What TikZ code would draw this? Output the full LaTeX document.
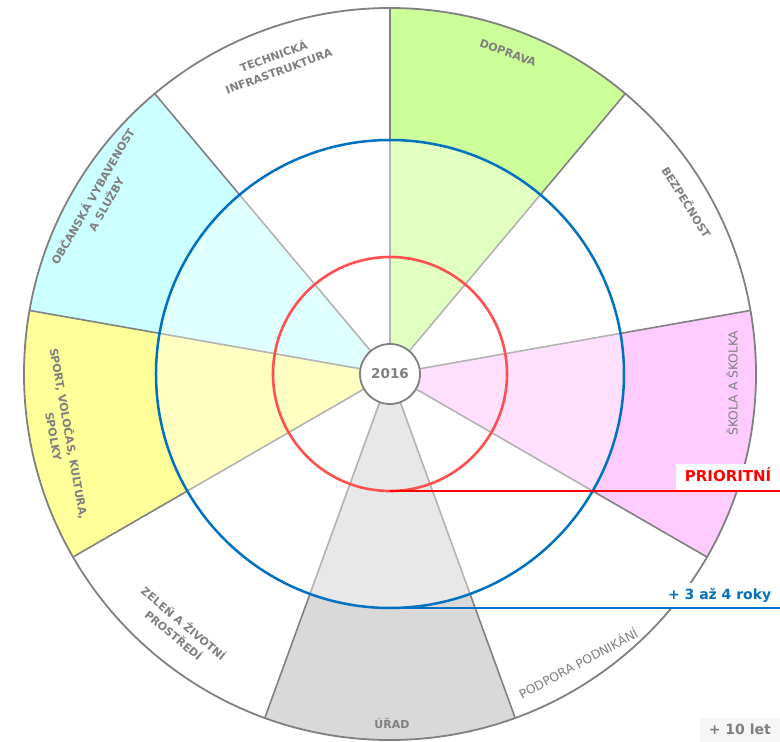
\documentclass[tikz,border=0pt]{standalone}
\usepackage{fontspec}
\setmainfont{DejaVu Sans}
\definecolor{gline}{HTML}{808080}
\definecolor{gtext}{HTML}{7F7F7F}
\definecolor{cgreen}{HTML}{CCFF99}
\definecolor{cpink}{HTML}{FFCCFF}
\definecolor{cgray}{HTML}{D9D9D9}
\definecolor{cyellow}{HTML}{FFFF99}
\definecolor{ccyan}{HTML}{CCFFFF}
\definecolor{cblue}{HTML}{0070C0}
\definecolor{cred}{HTML}{FF0000}
\definecolor{credc}{HTML}{FF4F4F}
\definecolor{tagbg}{HTML}{F6F6F6}
\tikzset{
  sectorlabel/.style={text=gtext, font=\fontsize{11}{15.5}\selectfont\bfseries, align=center, inner sep=0pt},
  sectorlabelreg/.style={text=gtext, font=\fontsize{12.3}{15.5}\selectfont, align=center, inner sep=0pt},
  radial/.style={draw=gline, line width=1.6pt},
  outerring/.style={draw=gline, line width=1.8pt},
  bluering/.style={draw=cblue, line width=2.5pt},
  redring/.style={draw=credc, line width=2.6pt},
  blueline/.style={draw=cblue, line width=2.5pt},
  redline/.style={draw=cred, line width=2.5pt},
  centerbox/.style={circle, fill=white, draw=gline, line width=1.8pt, minimum size=60pt, inner sep=0pt, text=gtext, font=\fontsize{13.5}{15}\selectfont\bfseries},
  tagbox/.style={fill=white, font=\fontsize{14}{16}\selectfont\bfseries, text height=10pt, text depth=0pt, inner xsep=8.5pt, inner ysep=0pt, anchor=south east}
}
\newcommand\sectorfill[3]{\fill[#3] (O) -- (#1:366pt) arc[start angle=#1, end angle=#2, radius=366pt] -- cycle;}
\begin{document}
\begin{tikzpicture}[x=1pt,y=1pt]
\useasboundingbox (-390,-368) rectangle (390,374);
\coordinate (O) at (0,0);
% sector fills
\sectorfill{50}{90}{cgreen}
\sectorfill{-30}{10}{cpink}
\sectorfill{-110}{-70}{cgray}
\sectorfill{170}{210}{cyellow}
\sectorfill{130}{170}{ccyan}
% radial lines
\foreach \a [count=\i] in {90,50,10,-30,-70,-110,-150,170,130}{
  \coordinate (p\i) at (\a:366pt);
  \draw[radial] (O) -- (p\i);
}
\draw[outerring] (O) circle[radius=366pt];
% lighten the inner disc
\fill[white, fill opacity=0.4] (O) circle[radius=235pt];
% rings
\draw[bluering] (O) circle[radius=234pt];
\draw[redring] (O) circle[radius=117pt];
% level lines
\coordinate (rb) at (0,-117);
\coordinate (re) at (390,-117);
\draw[redline] (rb) -- (re);
\coordinate (bb) at (0,-234);
\coordinate (be) at (390,-234);
\draw[blueline] (bb) -- (be);
% centre
\node[centerbox] (c) at (O) {2016};
% sector labels
\node[sectorlabel, rotate=20] (tech) at (-114,311) {TECHNICKÁ\\INFRASTRUKTURA};
\node[sectorlabel, rotate=-20] (dopr) at (118,321) {DOPRAVA};
\node[sectorlabel, rotate=-58] (bezp) at (297,172) {BEZPEČNOST};
\node[sectorlabelreg, rotate=90] (skol) at (342,-9) {ŠKOLA A ŠKOLKA};
\node[sectorlabelreg, rotate=28] (podp) at (188,-289) {PODPORA PODNIKÁNÍ};
\node[sectorlabel] (urad) at (2,-349) {ÚŘAD};
\node[sectorlabel, rotate=-40] (zel) at (-211,-255) {ZELEŇ A ŽIVOTNÍ\\PROSTŘEDÍ};
\node[sectorlabel, rotate=-80] (sport) at (-328,-61) {SPORT, VOLOČAS, KULTURA,\\SPOLKY};
\node[sectorlabel, rotate=60] (obc) at (-291,174) {OBČANSKÁ VYBAVENOST\\A SLUŽBY};
% level tags
\node[tagbox, text=cred, minimum height=26pt, font=\fontsize{15}{17}\selectfont\bfseries] (prio) at ([yshift=1.25pt]re) {PRIORITNÍ};
\node[tagbox, text=cblue, minimum height=24pt] (roky) at ([yshift=1.25pt]be) {+ 3 až 4 roky};
\coordinate (corner) at (390,-368);
\node[tagbox, fill=tagbg, text=gtext, minimum width=80pt, minimum height=24pt, inner xsep=4pt] (let) at (corner) {+ 10 let};
\end{tikzpicture}
\end{document}
